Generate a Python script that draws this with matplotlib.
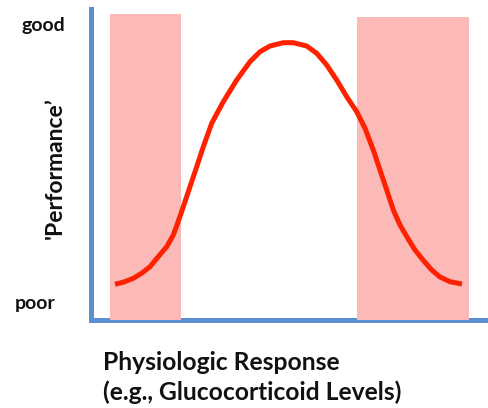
import matplotlib
matplotlib.use("Agg")
import matplotlib.pyplot as plt
from matplotlib.patches import Rectangle

# curve (response 0-100, performance 0-100)
response = [6.16, 8.43, 10.77, 12.96, 14.97, 16.98, 19.17, 20.83, 21.76, 23.35,
            25.03, 26.72, 28.38, 30.49, 33.41, 36.78, 40.13, 42.64, 45.16, 48.50,
            51.02, 54.39, 56.91, 59.42, 61.94, 64.45, 66.97, 69.06, 71.14, 72.83,
            74.52, 76.18, 77.86, 79.62, 81.64, 83.65, 85.84, 87.92, 90.44, 93.46]
performance = [11.34, 12.08, 13.27, 14.98, 17.00, 20.13, 23.45, 27.21, 30.43, 36.33,
               42.77, 49.21, 55.65, 63.19, 70.14, 77.13, 83.03, 86.25, 88.08, 89.15,
               89.15, 88.08, 85.73, 81.96, 77.13, 71.76, 66.93, 61.58, 54.59, 48.15,
               41.71, 35.27, 30.43, 26.57, 22.38, 19.16, 15.94, 13.69, 12.17, 11.43]

# shaded zones: (start, end, top)
zones = [(4.9, 22.8, 98.4), (67.0, 95.2, 97.4)]

y_labels = ["good", "poor"]
x_label = ["Physiologic Response", "(e.g., Glucocorticoid Levels)"]
y_title = "'Performance\u2019"

blue = "#5b8fcf"
pink = "#fbb9b7"
red = "#ff2200"

W, H = 488, 408
fig = plt.figure(figsize=(W / 100, H / 100), dpi=100)
ax = fig.add_axes([90.5 / W, (H - 319.5) / H, (W - 90.5) / W, (319.5 - 9) / H])
ax.set_xlim(0, 100)
ax.set_ylim(0, 100)

for x0, x1, top in zones:
    ax.add_patch(Rectangle((x0, 0), x1 - x0, top, color=pink, lw=0, zorder=1))

ax.plot(response, performance, color=red, lw=3.6, solid_capstyle="butt",
        solid_joinstyle="round", zorder=3)

for side in ["top", "right"]:
    ax.spines[side].set_visible(False)
for side in ["left", "bottom"]:
    ax.spines[side].set_color(blue)
    ax.spines[side].set_linewidth(3.6)
    ax.spines[side].set_zorder(0.5)
ax.set_xticks([])
ax.set_yticks([])

font = dict(family=["Lato", "DejaVu Sans"], weight="bold", color="#111111")
fig.text(43 / W, 1 - 25.5 / H, y_labels[0], ha="center", va="center", fontsize=14, **font)
fig.text(35.5 / W, 1 - 303 / H, y_labels[1], ha="center", va="center", fontsize=14, **font)
fig.text(55 / W, 1 - 168 / H, y_title, ha="center", va="center", rotation=90,
         fontsize=16.5, **font)
fig.text(103 / W, 1 - 370 / H, x_label[0], ha="left", va="baseline", fontsize=17.7, **font)
fig.text(103 / W, 1 - 400 / H, x_label[1], ha="left", va="baseline", fontsize=17.7, **font)

fig.savefig("out.png", dpi=100)
